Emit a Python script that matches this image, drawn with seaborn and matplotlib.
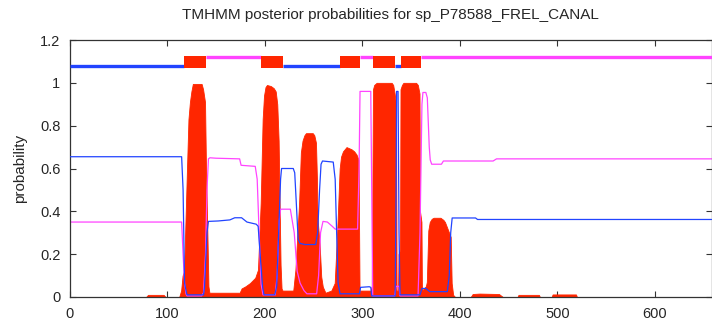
import matplotlib
matplotlib.use("Agg")
import matplotlib.pyplot as plt
import seaborn as sns
import pandas as pd
import numpy as np

# ---- data ----
title = "TMHMM posterior probabilities for sp_P78588_FREL_CANAL"
seq_len = 658

# transmembrane posterior (red filled)
tm_pos = [0, 78, 80, 96, 98, 112, 114, 115.5, 117, 118, 120, 121.5, 123, 124.5, 126, 135, 136.5, 138.5, 139.5, 141, 142, 143,
          174, 176, 180, 184.6, 190, 192.8, 195.6, 197.6, 199, 200.5, 202, 206, 209, 211, 212.6, 214, 215, 216, 217, 218,
          229, 231.2, 235, 236.8, 238.5, 240.4, 242, 249, 250.6, 252.3, 253.3, 254, 256, 257.7, 259.3, 262, 268, 271.5, 274,
          276.6, 278, 280, 283.6, 288.7, 291.5, 293.9, 296, 297, 308.5, 309.5, 310.8, 312, 314.5, 329.9, 331.5, 333, 334.4, 335,
          336.5, 337, 338.5, 339, 340.5, 342, 355, 356.8, 358.5, 359, 360.5, 361, 365, 366, 367.5, 369, 371, 373, 380, 383, 384.6,
          388, 390.5, 391.5, 393, 395, 411, 413, 420, 440, 444, 459, 460, 481, 482, 494, 495, 519, 520, 658]
tm_prob = [0, 0, 0.01, 0.01, 0, 0, 0.03, 0.1, 0.12, 0.28, 0.6, 0.83, 0.91, 0.96, 0.995, 0.995, 0.97, 0.91, 0.6, 0.28, 0.05, 0.02,
           0.02, 0.04, 0.05, 0.065, 0.09, 0.127, 0.44, 0.83, 0.94, 0.98, 0.99, 0.985, 0.975, 0.96, 0.9, 0.73, 0.44, 0.15, 0.04, 0.03,
           0.03, 0.127, 0.44, 0.675, 0.73, 0.755, 0.765, 0.765, 0.755, 0.72, 0.55, 0.36, 0.25, 0.095, 0.048, 0.02, 0.03, 0.065, 0.3,
           0.6, 0.655, 0.68, 0.70, 0.69, 0.68, 0.665, 0.64, 0.03, 0.03, 0.05, 0.97, 0.99, 1.0, 1.0, 0.99, 0.95, 0.9, 0.03,
           0.03, 0.2, 0.22, 0.97, 0.99, 1.0, 1.0, 0.99, 0.95, 0.4, 0.35, 0.03, 0.05, 0.07, 0.31, 0.35, 0.365, 0.37, 0.37, 0.36, 0.35,
           0.31, 0.28, 0.065, 0.01, 0, 0, 0.014, 0.016, 0.014, 0, 0, 0.01, 0.01, 0, 0, 0.012, 0.012, 0, 0]

# inside posterior (blue line)
in_pos = [0, 114.5, 116, 117.5, 119, 120, 137, 138, 140.5, 142, 152, 164, 169, 176, 181.5, 191, 193, 195, 197.5,
          199, 210, 212, 214, 216, 217, 229, 230.5, 232, 234, 236, 241, 252, 254, 256, 257.5, 259, 270, 272,
          273.5, 275, 277, 297, 298, 307, 308.5, 309.5, 333.5, 334.5, 335, 336.5, 337.5, 338.5, 359, 361, 365,
          369, 387, 389, 390.5, 392, 416, 418, 658]
in_prob = [0.655, 0.655, 0.5, 0.065, 0.03, 0.01, 0.01, 0.05, 0.3, 0.353, 0.355, 0.36, 0.37, 0.37, 0.35, 0.34, 0.33,
           0.2, 0.05, 0.01, 0.01, 0.05, 0.3, 0.55, 0.6, 0.6, 0.58, 0.45, 0.27, 0.25, 0.245, 0.245, 0.3, 0.5, 0.62,
           0.635, 0.63, 0.55, 0.3, 0.065, 0.015, 0.015, 0.045, 0.048, 0.045, 0.005, 0.005, 0.5, 0.96, 0.96, 0.3,
           0.01, 0.01, 0.04, 0.04, 0.025, 0.025, 0.1, 0.3, 0.369, 0.369, 0.362, 0.362]

# outside posterior (magenta line)
out_pos = [0, 114.5, 116, 117.5, 119, 120, 135, 137, 139, 140.5, 142, 143.5, 150, 174, 175.5, 190, 192, 194, 196,
           198, 210.5, 212.5, 214.5, 216, 226, 230, 233, 236, 240, 243, 253, 255, 257, 259.5, 264, 269, 272,
           295, 296.5, 297.5, 308.5, 309.5, 310.5, 333, 334.5, 337.5, 338.5, 357, 359, 361, 362, 365, 366.5,
           368.5, 369.5, 371, 381, 383, 434, 437.5, 658]
out_prob = [0.35, 0.35, 0.2, 0.065, 0.015, 0.005, 0.005, 0.02, 0.2, 0.5, 0.645, 0.65, 0.648, 0.645, 0.615, 0.61,
            0.55, 0.3, 0.06, 0.01, 0.01, 0.1, 0.35, 0.41, 0.41, 0.3, 0.12, 0.065, 0.03, 0.015, 0.015, 0.1, 0.3,
            0.353, 0.35, 0.33, 0.317, 0.317, 0.6, 0.96, 0.96, 0.5, 0.005, 0.005, 0.05, 0.05, 0.005, 0.005, 0.3,
            0.9, 0.955, 0.955, 0.93, 0.7, 0.64, 0.62, 0.62, 0.635, 0.635, 0.645, 0.645]

# predicted topology (top bars)
inside_segs = [(0, 117), (218, 277), (333, 340)]
outside_segs = [(139, 196), (297, 311), (360, 658)]
tm_segs = [(117, 139), (196, 218), (277, 297), (311, 333), (340, 360)]
inside_level = 1.08
outside_level = 1.12
tm_box = (1.07, 1.125)

x_ticks = [0, 100, 200, 300, 400, 500, 600]
y_ticks = [0, 0.2, 0.4, 0.6, 0.8, 1.0, 1.2]
y_tick_labels = ["0", "0.2", "0.4", "0.6", "0.8", "1", "1.2"]

RED = "#ff2600"
BLUE = "#2244ff"
MAGENTA = "#ff44ff"

# ---- drawing ----
sns.set_style("white")
plt.rcParams["font.family"] = ["Liberation Sans", "DejaVu Sans"]

W, H = 712, 320
fig = plt.figure(figsize=(W / 100, H / 100), dpi=100)
left, right, top, bottom = 70, 711.5, 40, 297
ax = fig.add_axes([left / W, 1 - bottom / H, (right - left) / W, (bottom - top) / H])

ax.fill_between(tm_pos, 0, tm_prob, color=RED, linewidth=0.6, edgecolor=RED, zorder=1)

df_in = pd.DataFrame({"pos": in_pos, "prob": in_prob})
df_out = pd.DataFrame({"pos": out_pos, "prob": out_prob})
sns.lineplot(data=df_in, x="pos", y="prob", ax=ax, color=BLUE, linewidth=0.9, estimator=None, sort=False, zorder=3)
sns.lineplot(data=df_out, x="pos", y="prob", ax=ax, color=MAGENTA, linewidth=0.9, estimator=None, sort=False, zorder=2)

for a, b in inside_segs:
    ax.plot([a, b], [inside_level, inside_level], color=BLUE, linewidth=2.4, solid_capstyle="butt", zorder=4)
for a, b in outside_segs:
    ax.plot([a, b], [outside_level, outside_level], color=MAGENTA, linewidth=2.4, solid_capstyle="butt", zorder=4)
for a, b in tm_segs:
    ax.fill_between([a, b], tm_box[0], tm_box[1], color=RED, linewidth=0, zorder=5)

ax.set_xlim(0, seq_len)
ax.set_ylim(0, 1.2)
ax.set_xticks(x_ticks)
ax.set_yticks(y_ticks)
ax.set_yticklabels(y_tick_labels)
ax.set_xlabel("")
ax.set_ylabel("")
ax.tick_params(axis="both", direction="in", length=4, width=0.8, color="#333333",
               labelsize=10.5, pad=7, top=True, right=True, left=True, bottom=True)
for s in ax.spines.values():
    s.set_color("#333333")
    s.set_linewidth(0.9)

fig.text(((left + right) / 2) / W, 1 - 15 / H, title, ha="center", va="center", fontsize=11)
fig.text(20 / W, 1 - 168 / H, "probability", rotation=90, ha="center", va="center", fontsize=11)

fig.savefig("out.png", dpi=100)
